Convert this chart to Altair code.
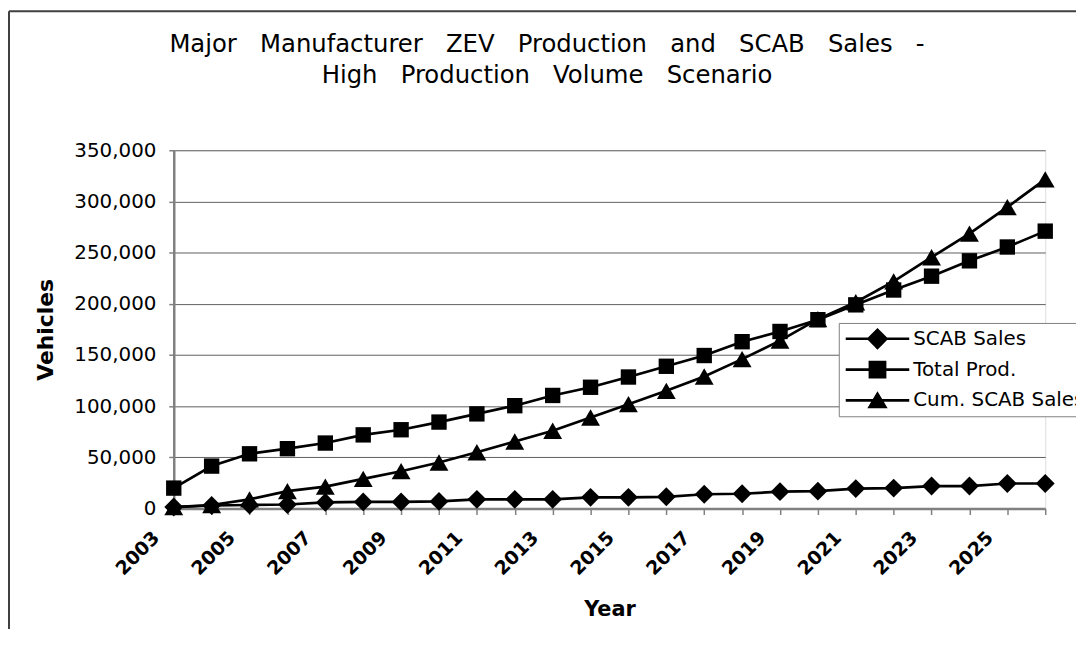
import altair as alt
import pandas as pd

# ---------------- data ----------------
years = list(range(2003, 2027))
scab_sales = [1500, 3000, 3500, 4000, 6000, 6500, 6500, 7000, 9000, 9000, 9000, 11000,
              11000, 11500, 14000, 14500, 16500, 17000, 19500, 20000, 22000, 22000, 24500, 24500]
total_prod = [20000, 41500, 53500, 58500, 64000, 72000, 77000, 84500, 92500, 100500, 110500, 118500,
              128500, 139000, 149500, 163000, 173000, 184500, 199000, 213500, 227000, 242000, 255500, 271000]
cum_scab = [1500, 3500, 9000, 17000, 21500, 29000, 36500, 45000, 55000, 65500, 76000, 89000,
            102000, 115000, 129000, 146000, 164000, 185000, 201500, 222000, 245500, 268500, 294500, 321500]
series_names = ["SCAB Sales", "Total Prod.", "Cum. SCAB Sales"]
y_ticks = [0, 50000, 100000, 150000, 200000, 250000, 300000, 350000]
title_words_1 = ["Major", "Manufacturer", "ZEV", "Production", "and", "SCAB", "Sales", "-"]
title_words_2 = ["High", "Production", "Volume", "Scenario"]

gap = "\u00a0\u00a0\u00a0"
title_lines = [gap.join(title_words_1), gap.join(title_words_2)]

rows = []
for name, vals in zip(series_names, [scab_sales, total_prod, cum_scab]):
    for yr, v in zip(years, vals):
        rows.append({"Year": yr, "Vehicles": v, "Series": name})
df = pd.DataFrame(rows)

FONT = "DejaVu Sans"
marker_shapes = {"SCAB Sales": ("diamond", 361), "Total Prod.": ("square", 240),
                 "Cum. SCAB Sales": ("triangle-up", 361)}
# legend symbols: a line with the series marker on it (filled paths, same winding)
legend_paths = [
    "M-1,-0.04H1V0.04H-1ZM0,-0.34L0.34,0L0,0.34L-0.34,0Z",
    "M-1,-0.04H1V0.04H-1ZM-0.28,-0.28H0.28V0.28H-0.28Z",
    "M-1,-0.04H1V0.04H-1ZM0,-0.29L0.32,0.25H-0.32Z",
]

x_axis = alt.Axis(
    values=years, format="d",
    labelExpr="datum.value % 2 == 1 ? datum.label : ''",
    labelAngle=-45, labelAlign="right", labelBaseline="middle",
    labelFontSize=19, labelFontWeight="bold", labelColor="black", labelFont=FONT,
    labelOffset=-18, labelPadding=20, labelOverlap=False, labelFlush=False,
    tickSize=6, tickColor="#808080", tickWidth=1.5,
    domainColor="#808080", domainWidth=2.5, grid=False,
    titleFontSize=21, titleFontWeight="bold", titleColor="black", titleFont=FONT,
    titleY=108, titleBaseline="alphabetic",
)
y_axis = alt.Axis(
    values=y_ticks,
    labelExpr="format(datum.value, ',')",
    labelFontSize=20, labelColor="black", labelFont=FONT, labelPadding=13,
    tickSize=5, tickColor="#808080", tickWidth=1.5,
    domainColor="#808080", domainWidth=2.5,
    grid=True, gridColor="#606060", gridWidth=1,
    titleFontSize=22, titleFontWeight="bold", titleColor="black", titleFont=FONT,
    titleX=-122, titleBaseline="alphabetic",
)

base = alt.Chart(df).encode(
    x=alt.X("Year:Q", scale=alt.Scale(domain=[2003, 2026], nice=False, zero=False),
            axis=x_axis, title="Year"),
    y=alt.Y("Vehicles:Q", scale=alt.Scale(domain=[0, 350000], nice=False),
            axis=y_axis, title="Vehicles"),
)

lines = base.mark_line(color="black", strokeWidth=2.7).encode(detail="Series:N")

point_layers = []
for name in series_names:
    shp, sz = marker_shapes[name]
    point_layers.append(
        base.transform_filter(alt.datum.Series == name)
        .mark_point(filled=True, color="black", opacity=1, shape=shp, size=sz)
    )

legend_layer = base.transform_filter("false").mark_point(
    filled=True, color="black", opacity=1
).encode(
    shape=alt.Shape(
        "Series:N",
        scale=alt.Scale(domain=series_names, range=legend_paths),
        legend=alt.Legend(
            title=None, orient="none", legendX=670, legendY=174, direction="vertical",
            symbolSize=4096, clipHeight=30, rowPadding=1, padding=1, symbolOffset=5,
            labelOffset=3, labelFontSize=20, labelFont=FONT, labelColor="black", labelLimit=400,
            strokeColor="#808080", fillColor="white",
            symbolFillColor="black", symbolOpacity=1,
        ),
    )
)

frame_data = alt.Data(values=[{"k": 0}])
left_frame = alt.Chart(frame_data).mark_rule(color="#404040", strokeWidth=2).encode(
    x=alt.value(-166), y=alt.value(-140), y2=alt.value(500))
top_frame = alt.Chart(frame_data).mark_rule(color="#404040", strokeWidth=2).encode(
    x=alt.value(-166), x2=alt.value(950), y=alt.value(-140))

chart = alt.layer(lines, *point_layers, legend_layer, left_frame, top_frame).properties(
    width=878, height=361,
    autosize=alt.AutoSizeParams(type="none"),
    padding={"left": 167, "top": 141, "right": 31, "bottom": 119},
    title=alt.TitleParams(
        text=title_lines, fontSize=24.5, font=FONT, fontWeight="normal", color="black",
        anchor="middle", dx=-63, dy=119, offset=40, lineHeight=32,
    ),
).configure_view(stroke="#808080", strokeWidth=2).configure(font=FONT, background="white")

chart.save("out.html", embed_options={"renderer": "svg", "actions": False})
